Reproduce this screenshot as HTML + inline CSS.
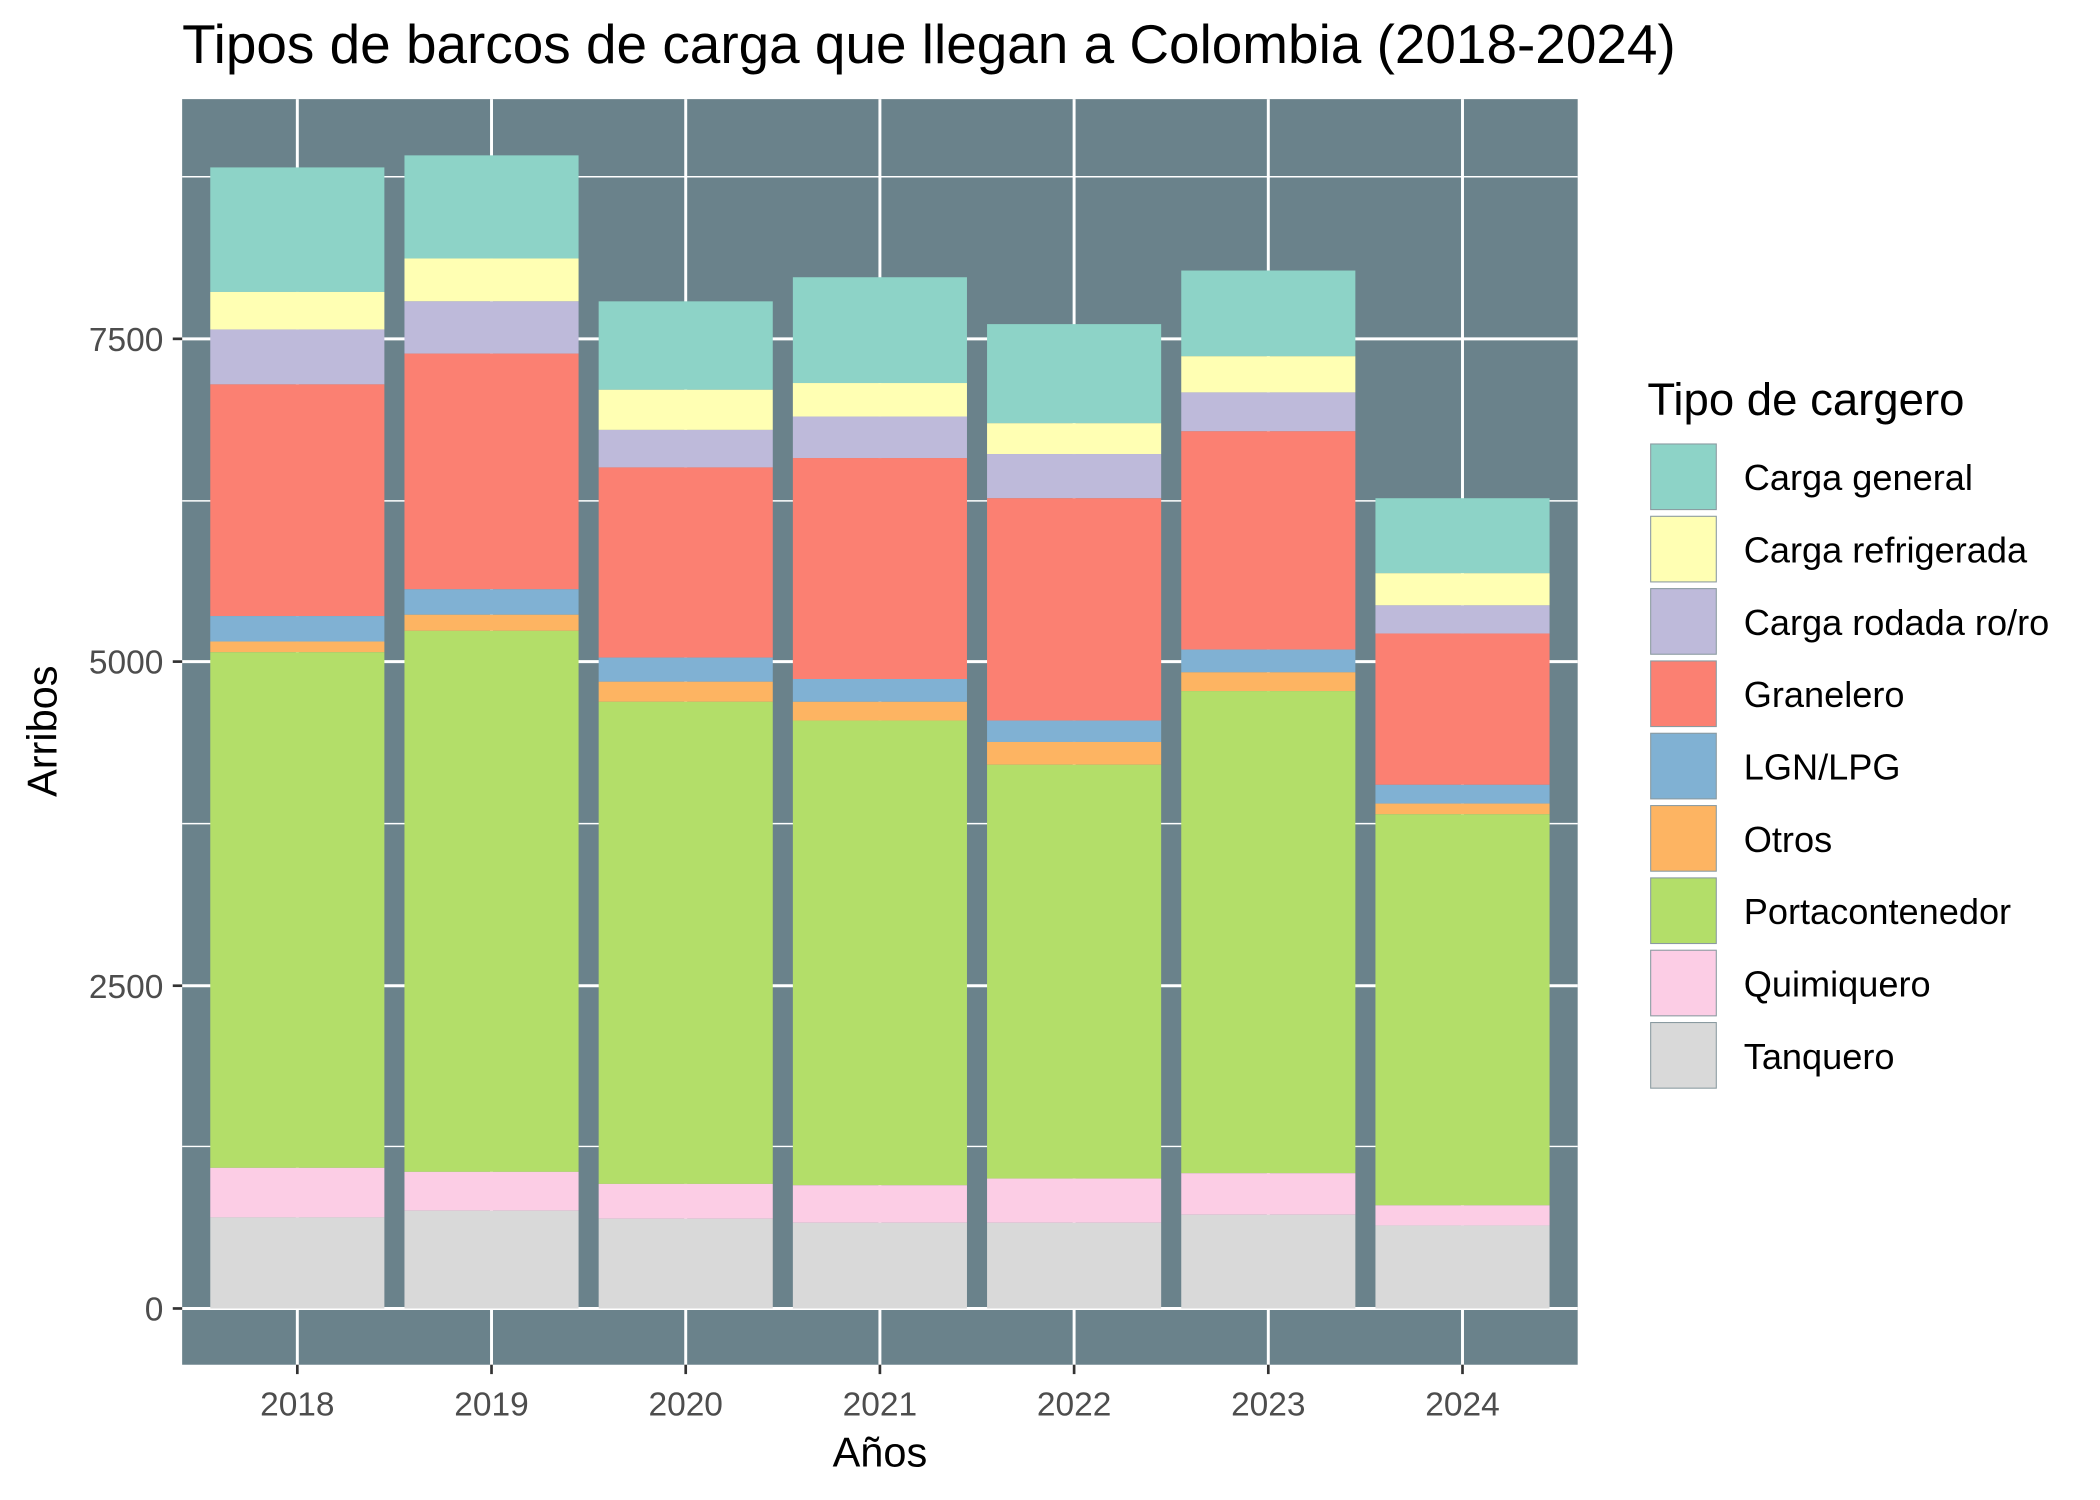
<!DOCTYPE html>
<html><head><meta charset="utf-8"><style>html,body{margin:0;padding:0;background:#fff}svg{display:block}</style></head>
<body>
<svg width="2100" height="1500" viewBox="0 0 1568 1120" preserveAspectRatio="none" xmlns="http://www.w3.org/2000/svg" font-family="Liberation Sans, sans-serif">
<rect width="1568" height="1120" fill="#fff"/>
<text x="136" y="47" font-size="41" fill="#000">Tipos de barcos de carga que llegan a Colombia (2018-2024)</text>
<rect x="136" y="74" width="1042" height="945" fill="#6A828B"/>
<g stroke="#fff">
<g stroke-width="1.1">
<line x1="136" x2="1178" y1="132" y2="132"/><line x1="136" x2="1178" y1="374" y2="374"/><line x1="136" x2="1178" y1="615" y2="615"/><line x1="136" x2="1178" y1="856" y2="856"/>
</g>
<g stroke-width="2.2">
<line x1="136" x2="1178" y1="253" y2="253"/><line x1="136" x2="1178" y1="494" y2="494"/><line x1="136" x2="1178" y1="736" y2="736"/><line x1="136" x2="1178" y1="977" y2="977"/>
<line y1="74" y2="1019" x1="222" x2="222"/><line y1="74" y2="1019" x1="367" x2="367"/><line y1="74" y2="1019" x1="512" x2="512"/><line y1="74" y2="1019" x1="657" x2="657"/><line y1="74" y2="1019" x1="802" x2="802"/><line y1="74" y2="1019" x1="947" x2="947"/><line y1="74" y2="1019" x1="1092" x2="1092"/>
</g></g>
<g id="bars">
<rect x="157" y="125" width="130" height="93" fill="#8DD3C7"/><rect x="157" y="218" width="130" height="28" fill="#FFFFB3"/><rect x="157" y="246" width="130" height="41" fill="#BEBADA"/><rect x="157" y="287" width="130" height="173" fill="#FB8072"/><rect x="157" y="460" width="130" height="19" fill="#80B1D3"/><rect x="157" y="479" width="130" height="8" fill="#FDB462"/><rect x="157" y="487" width="130" height="385" fill="#B3DE69"/><rect x="157" y="872" width="130" height="37" fill="#FCCDE5"/><rect x="157" y="909" width="130" height="68" fill="#D9D9D9"/>
<rect x="302" y="116" width="130" height="77" fill="#8DD3C7"/><rect x="302" y="193" width="130" height="32" fill="#FFFFB3"/><rect x="302" y="225" width="130" height="39" fill="#BEBADA"/><rect x="302" y="264" width="130" height="176" fill="#FB8072"/><rect x="302" y="440" width="130" height="19" fill="#80B1D3"/><rect x="302" y="459" width="130" height="12" fill="#FDB462"/><rect x="302" y="471" width="130" height="404" fill="#B3DE69"/><rect x="302" y="875" width="130" height="29" fill="#FCCDE5"/><rect x="302" y="904" width="130" height="73" fill="#D9D9D9"/>
<rect x="447" y="225" width="130" height="66" fill="#8DD3C7"/><rect x="447" y="291" width="130" height="30" fill="#FFFFB3"/><rect x="447" y="321" width="130" height="28" fill="#BEBADA"/><rect x="447" y="349" width="130" height="142" fill="#FB8072"/><rect x="447" y="491" width="130" height="18" fill="#80B1D3"/><rect x="447" y="509" width="130" height="15" fill="#FDB462"/><rect x="447" y="524" width="130" height="360" fill="#B3DE69"/><rect x="447" y="884" width="130" height="26" fill="#FCCDE5"/><rect x="447" y="910" width="130" height="67" fill="#D9D9D9"/>
<rect x="592" y="207" width="130" height="79" fill="#8DD3C7"/><rect x="592" y="286" width="130" height="25" fill="#FFFFB3"/><rect x="592" y="311" width="130" height="31" fill="#BEBADA"/><rect x="592" y="342" width="130" height="165" fill="#FB8072"/><rect x="592" y="507" width="130" height="17" fill="#80B1D3"/><rect x="592" y="524" width="130" height="14" fill="#FDB462"/><rect x="592" y="538" width="130" height="347" fill="#B3DE69"/><rect x="592" y="885" width="130" height="28" fill="#FCCDE5"/><rect x="592" y="913" width="130" height="64" fill="#D9D9D9"/>
<rect x="737" y="242" width="130" height="74" fill="#8DD3C7"/><rect x="737" y="316" width="130" height="23" fill="#FFFFB3"/><rect x="737" y="339" width="130" height="33" fill="#BEBADA"/><rect x="737" y="372" width="130" height="166" fill="#FB8072"/><rect x="737" y="538" width="130" height="16" fill="#80B1D3"/><rect x="737" y="554" width="130" height="17" fill="#FDB462"/><rect x="737" y="571" width="130" height="309" fill="#B3DE69"/><rect x="737" y="880" width="130" height="33" fill="#FCCDE5"/><rect x="737" y="913" width="130" height="64" fill="#D9D9D9"/>
<rect x="882" y="202" width="130" height="64" fill="#8DD3C7"/><rect x="882" y="266" width="130" height="27" fill="#FFFFB3"/><rect x="882" y="293" width="130" height="29" fill="#BEBADA"/><rect x="882" y="322" width="130" height="163" fill="#FB8072"/><rect x="882" y="485" width="130" height="17" fill="#80B1D3"/><rect x="882" y="502" width="130" height="14" fill="#FDB462"/><rect x="882" y="516" width="130" height="360" fill="#B3DE69"/><rect x="882" y="876" width="130" height="31" fill="#FCCDE5"/><rect x="882" y="907" width="130" height="70" fill="#D9D9D9"/>
<rect x="1027" y="372" width="130" height="56" fill="#8DD3C7"/><rect x="1027" y="428" width="130" height="24" fill="#FFFFB3"/><rect x="1027" y="452" width="130" height="21" fill="#BEBADA"/><rect x="1027" y="473" width="130" height="113" fill="#FB8072"/><rect x="1027" y="586" width="130" height="14" fill="#80B1D3"/><rect x="1027" y="600" width="130" height="8" fill="#FDB462"/><rect x="1027" y="608" width="130" height="292" fill="#B3DE69"/><rect x="1027" y="900" width="130" height="15" fill="#FCCDE5"/><rect x="1027" y="915" width="130" height="62" fill="#D9D9D9"/>
</g>
<g stroke="#333" stroke-width="2">
<line x1="129" x2="136" y1="253" y2="253"/><line x1="129" x2="136" y1="494" y2="494"/><line x1="129" x2="136" y1="736" y2="736"/><line x1="129" x2="136" y1="977" y2="977"/>
<line y1="1019" y2="1026" x1="222" x2="222"/><line y1="1019" y2="1026" x1="367" x2="367"/><line y1="1019" y2="1026" x1="512" x2="512"/><line y1="1019" y2="1026" x1="657" x2="657"/><line y1="1019" y2="1026" x1="802" x2="802"/><line y1="1019" y2="1026" x1="947" x2="947"/><line y1="1019" y2="1026" x1="1092" x2="1092"/>
</g>
<g font-size="25" fill="#4D4D4D" text-anchor="end">
<text x="122" y="262">7500</text><text x="122" y="503">5000</text><text x="122" y="745">2500</text><text x="122" y="986">0</text>
</g>
<g font-size="25" fill="#4D4D4D" text-anchor="middle">
<text x="222" y="1057">2018</text><text x="367" y="1057">2019</text><text x="512" y="1057">2020</text><text x="657" y="1057">2021</text><text x="802" y="1057">2022</text><text x="947" y="1057">2023</text><text x="1092" y="1057">2024</text>
</g>
<text x="657" y="1095" font-size="31" text-anchor="middle" fill="#000">Años</text>
<text transform="translate(42,546) rotate(-90)" font-size="31" text-anchor="middle" fill="#000">Arribos</text>
<text x="1230" y="310" font-size="34" fill="#000">Tipo de cargero</text>
<g stroke="#8a9aa0" stroke-width="0.8">
<rect x="1232.5" y="331.5" width="49" height="49" fill="#8DD3C7"/>
<rect x="1232.5" y="385.5" width="49" height="49" fill="#FFFFB3"/>
<rect x="1232.5" y="439.5" width="49" height="49" fill="#BEBADA"/>
<rect x="1232.5" y="493.5" width="49" height="49" fill="#FB8072"/>
<rect x="1232.5" y="547.5" width="49" height="49" fill="#80B1D3"/>
<rect x="1232.5" y="601.5" width="49" height="49" fill="#FDB462"/>
<rect x="1232.5" y="655.5" width="49" height="49" fill="#B3DE69"/>
<rect x="1232.5" y="709.5" width="49" height="49" fill="#FCCDE5"/>
<rect x="1232.5" y="763.5" width="49" height="49" fill="#D9D9D9"/>
</g>
<g font-size="27" fill="#000">
<text x="1302" y="366">Carga general</text>
<text x="1302" y="420">Carga refrigerada</text>
<text x="1302" y="474">Carga rodada ro/ro</text>
<text x="1302" y="528">Granelero</text>
<text x="1302" y="582">LGN/LPG</text>
<text x="1302" y="636">Otros</text>
<text x="1302" y="690">Portacontenedor</text>
<text x="1302" y="744">Quimiquero</text>
<text x="1302" y="798">Tanquero</text>
</g>
</svg>
</body></html>
